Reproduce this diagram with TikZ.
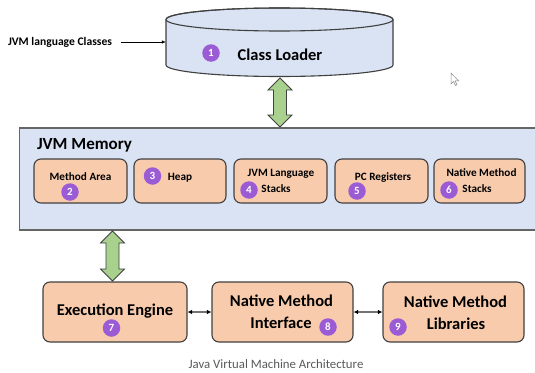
\documentclass[tikz,border=0pt]{standalone}
\usepackage{fontspec}
\setmainfont{Carlito}
\usetikzlibrary{arrows.meta}
\definecolor{memblue}{HTML}{DAE3F3}
\definecolor{peach}{HTML}{F8CBAD}
\definecolor{arrowgreen}{HTML}{A9D18E}
\definecolor{badgepurple}{HTML}{9B5BD4}
\definecolor{edgegray}{HTML}{404040}
\tikzset{
  unitbox/.style={draw=edgegray, line width=1.1pt, fill=peach, rounded corners=7pt, inner sep=0pt},
  badge/.style={circle, fill=badgepurple, text=white, font=\bfseries\fontsize{11}{11}\selectfont, inner sep=0pt, minimum size=17.5pt},
  boxtext/.style={font=\bfseries\fontsize{11.2}{12}\selectfont, inner sep=0pt},
  bigtext/.style={font=\bfseries\fontsize{16.5}{18}\selectfont, inner sep=0pt},
  link/.style={draw=black!55, line width=1.1pt, {Latex[length=4.5pt,width=4.5pt,color=black]}-{Latex[length=4.5pt,width=4.5pt,color=black]}}
}
% green two-headed arrow: (x)(top:bottom)
\def\greenarrow(#1)(#2:#3){\draw[line width=0.8pt, draw=edgegray, fill=arrowgreen] (#1,#2) -- ++(12,12) -- ++(-5.5,0) -- (#1+6.5,#3-12) -- ++(5.5,0) -- (#1,#3) -- ++(-12,-12) -- ++(5.5,0) -- (#1-6.5,#2+12) -- ++(-5.5,0) -- cycle;}

\begin{document}
\begin{tikzpicture}[x=1pt, y=-1pt]
			\useasboundingbox[fill=white] (0,0) rectangle (535,372);
			
			%%%%% class loader %%%%%
			\draw[line width=1.1pt, draw=edgegray, fill=memblue] (166,19.5) -- (166,65) arc[start angle=180, end angle=0, x radius=113.5, y radius=11.5] -- (393,19.5) arc[start angle=0, end angle=-180, x radius=113.5, y radius=11.5] -- cycle;
			\draw[line width=1.1pt, draw=edgegray] (279.5,19.5) ellipse [x radius=113.5, y radius=11.5];
			\node[minimum width=227pt, minimum height=46pt, inner sep=0pt] (loader) at (279.5,42) {};
			\node[bigtext] (loadertext) at (280,55) {Class Loader};
			\node[badge] (b1) at (211,53) {1};
			
			\node[font=\bfseries\fontsize{11.6}{12}\selectfont, inner xsep=9pt, inner ysep=0pt] (classes) at (60,42) {JVM language Classes};
			\draw[line width=0.6pt, -{Latex[length=4pt,width=3.5pt]}] (classes.east) -- (classes.east -| loader.west);
			
			% pointer left on the screen
			\draw[line width=0.5pt, draw=black!45, fill=white] (451,73) -- (451,84) -- (453.5,81.5) -- (455.5,85.5) -- (457,84.8) -- (455,80.8) -- (458.5,80.8) -- cycle;
			
			\greenarrow(280)(78:127)
			
			%%%%% jvm memory %%%%%
			\fill[memblue] (19.5,128) rectangle (535,230);
			\draw[line width=1.3pt, draw=black!60] (535,128) -- (19.5,128) -- (19.5,230) -- (535,230);
			\node[font=\bfseries\fontsize{17}{18}\selectfont, inner sep=0pt] (memtitle) at (84.5,145) {JVM Memory};
			
			\node[unitbox, minimum width=93pt, minimum height=44pt] (method) at (80.5,181) {};
			\node[unitbox, minimum width=92pt, minimum height=44pt] (heap) at (180,181) {};
			\node[unitbox, minimum width=93pt, minimum height=44pt] (stacks) at (280.5,181) {};
			\node[unitbox, minimum width=93pt, minimum height=44pt] (pcreg) at (381.5,181) {};
			\node[unitbox, minimum width=91pt, minimum height=44pt] (nstacks) at (479.5,181) {};
			
			\node[boxtext] at (80.5,177) {Method Area};
			\node[badge] (b2) at (70,192) {2};
			\node[boxtext] at (180,177.5) {Heap};
			\node[badge] (b3) at (152.5,176) {3};
			\node[boxtext] at (281,174) {JVM Language};
			\node[boxtext] at (276,188.5) {Stacks};
			\node[badge] (b4) at (249,190) {4};
			\node[boxtext] at (383,177.5) {PC Registers};
			\node[badge] (b5) at (357,191) {5};
			\node[boxtext] at (481.5,173) {Native Method};
			\node[boxtext] at (477,188.5) {Stacks};
			\node[badge] (b6) at (449,190) {6};
			
			\greenarrow(112.5)(231:281)
			
			%%%%% execution side %%%%%
			\node[unitbox, minimum width=144pt, minimum height=60pt] (engine) at (115,312) {};
			\node[unitbox, minimum width=141pt, minimum height=60pt] (interface) at (282.5,312) {};
			\node[unitbox, minimum width=141pt, minimum height=60pt] (libs) at (453.5,312) {};
			
			\node[bigtext] at (115,311) {Execution Engine};
			\node[badge] (b7) at (111.5,328) {7};
			\node[bigtext] at (281.5,301) {Native Method};
			\node[bigtext] at (281,323) {Interface};
			\node[badge] (b8) at (328,327) {8};
			\node[bigtext] at (455.5,302) {Native Method};
			\node[bigtext] at (456,324) {Libraries};
			\node[badge] (b9) at (398,327) {9};
			
			\draw[link] (engine.east) -- (interface.west);
			\draw[link] (interface.east) -- (libs.west);
			
			\node[font=\fontsize{12.8}{14}\selectfont, text=black!65, inner sep=0pt] (caption) at (276,364) {Java Virtual Machine Architecture};
\end{tikzpicture}
\end{document}
